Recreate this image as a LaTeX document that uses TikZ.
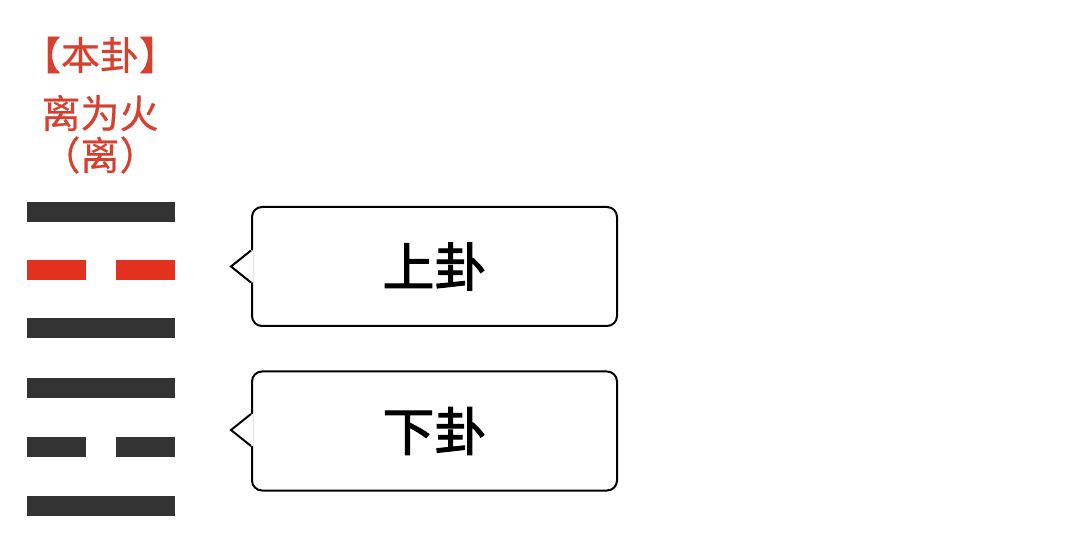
\documentclass[tikz,border=0pt]{standalone}
\usepackage{fontspec}
\newfontfamily\cjk{Noto Sans CJK SC}
\newfontfamily\cjkheavy[FakeBold=2]{Noto Sans CJK SC}
\newfontfamily\cjktitle[FakeBold=0.6]{Noto Sans CJK SC}
\usetikzlibrary{calc,positioning}
\definecolor{yaogray}{HTML}{333333}
\definecolor{yaored}{HTML}{E2321F}
\definecolor{titlered}{HTML}{D8402E}

\begin{document}
\begin{tikzpicture}[
    x=0.5pt, y=-0.5pt,
    every node/.style={font=\cjk},
    titletext/.style={text=titlered, font=\cjktitle\fontsize{19.5pt}{21pt}\selectfont},
    tag/.style={draw=black, line width=1pt, rounded corners=5pt, fill=white,
      minimum width=182.5pt, minimum height=59.5pt, inner sep=0pt,
      font=\cjkheavy\fontsize{26pt}{30pt}\selectfont},
    bubble/.style={draw=black, line width=1pt, line join=miter}
  ]
    \useasboundingbox (0,0) rectangle (1080,549);

    % title
    \node[titletext] (head) at (100,55) {【本卦】};
    \node[titletext] (name) at (100,113) {离为火};
    \node[titletext] (alias) at (100,155) {（离）};

    % six lines, top to bottom
    \foreach \y in {212,328,388,506}
      \fill[yaogray] (27,\y-10) rectangle (175,\y+10);
    \foreach \y/\c in {270/yaored,447/yaogray} {
      \fill[\c] (27,\y-10) rectangle (86,\y+10);
      \fill[\c] (116,\y-10) rectangle (175,\y+10);
    }

    % callouts
    \node[tag] (upper) at (434.5,266.5) {上卦};
    \node[tag] (lower) at (434.5,431) {下卦};
    \foreach \b/\dy in {upper/0,lower/-1} {
      \fill[white] ($(\b.west)+(-20,\dy)$) -- ($(\b.west)+(0,\dy-16)$)
        -- ($(\b.west)+(2,\dy-16)$) -- ($(\b.west)+(2,\dy+16)$)
        -- ($(\b.west)+(0,\dy+16)$) -- cycle;
      \draw[bubble] ($(\b.west)+(0,\dy-16)$) -- ($(\b.west)+(-20,\dy)$)
        -- ($(\b.west)+(0,\dy+16)$);
    }
  \end{tikzpicture}
\end{document}
